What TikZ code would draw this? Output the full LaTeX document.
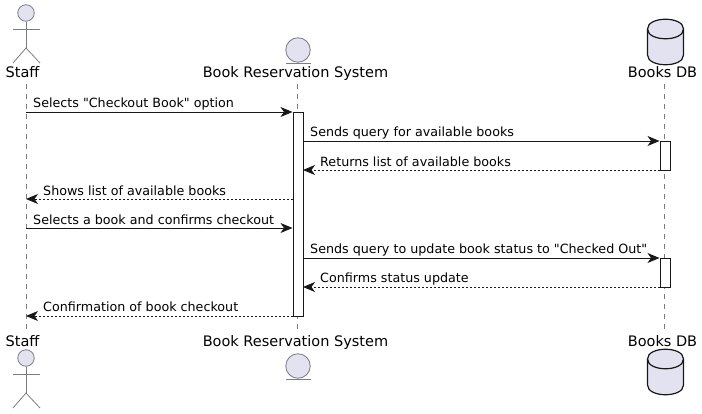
\documentclass[tikz,border=0pt]{standalone}
\usepackage{fontspec}
\usepackage{xcolor}
\setmainfont{DejaVu Sans}[Ligatures=TeXOff]
\usetikzlibrary{arrows.meta}
\definecolor{umlfill}{HTML}{E2E2F0}
\definecolor{umlline}{HTML}{181818}
\definecolor{umlgray}{HTML}{7B7B88}
\tikzset{
  msgline/.style={draw=umlline,line width=0.9pt,-{Stealth[length=12pt,width=10pt,inset=3.5pt]}},
  msgreturn/.style={msgline,dash pattern=on 2pt off 2pt},
  msgtext/.style={anchor=base west,inner sep=0pt,font=\fontsize{12.7}{15}\selectfont,text=black},
  nametext/.style={anchor=base,inner sep=0pt,font=\fontsize{14.5}{16}\selectfont,text=black},
  lifeline/.style={draw=umlgray,line width=0.8pt,dash pattern=on 5pt off 5pt},
  actbox/.style={draw=umlline,line width=0.9pt,fill=white,inner sep=0pt,minimum width=10pt},
  figline/.style={draw=umlgray,line width=0.8pt},
  dbline/.style={draw=umlline,line width=1.2pt}
}
\begin{document}
\begin{tikzpicture}[x=1pt,y=-1pt]
        \useasboundingbox (0,0) rectangle (702,414);
        % names at the top and the bottom
        \node[nametext](staffTop) at (22.5,78) {Staff};
        \node[nametext](sysTop) at (295.5,78) {Book Reservation System};
        \node[nametext](dbTop) at (662.5,78) {Books DB};
        \node[nametext](staffBot) at (22.5,346) {Staff};
        \node[nametext](sysBot) at (295.5,346) {Book Reservation System};
        \node[nametext](dbBot) at (662.5,346) {Books DB};
        % lifelines
        \coordinate(staffA) at (26,84);
        \coordinate(staffB) at (26,333);
        \coordinate(sysA) at (297.5,84);
        \coordinate(sysB) at (297.5,333);
        \coordinate(dbA) at (664.5,84);
        \coordinate(dbB) at (664.5,333);
        \draw[lifeline](staffA)--(staffB);
        \draw[lifeline](sysA)--(sysB);
        \draw[lifeline](dbA)--(dbB);
        % activation bars
        \node[actbox,minimum height=204pt](actSys) at (298,214) {};
        \node[actbox,minimum height=29pt](actDbA) at (665,155.5) {};
        \node[actbox,minimum height=29pt](actDbB) at (665,272.5) {};
        % message ends
        \coordinate(s1) at (26,112);
        \coordinate(s2) at (26,199);
        \coordinate(s3) at (26,228);
        \coordinate(s4) at (26,316);
        \coordinate(a1) at (292.5,112);
        \coordinate(a2) at (293,199);
        \coordinate(a3) at (292.5,228);
        \coordinate(a4) at (293,316);
        \coordinate(b1) at (303,141);
        \coordinate(b2) at (303,170);
        \coordinate(b3) at (303,258);
        \coordinate(b4) at (303,287);
        \coordinate(c1) at (659.5,141);
        \coordinate(c2) at (660,170);
        \coordinate(c3) at (659.5,258);
        \coordinate(c4) at (660,287);
        % messages
        \draw[msgline](s1)--(a1);
        \draw[msgline](b1)--(c1);
        \draw[msgreturn](c2)--(b2);
        \draw[msgreturn](a2)--(s2);
        \draw[msgline](s3)--(a3);
        \draw[msgline](b3)--(c3);
        \draw[msgreturn](c4)--(b4);
        \draw[msgreturn](a4)--(s4);
        \node[msgtext](t1) at (33,107.5) {Selects "Checkout Book" option};
        \node[msgtext](t2) at (310,136.5) {Sends query for available books};
        \node[msgtext](t3) at (320,166.5) {Returns list of available books};
        \node[msgtext](t4) at (43,195.5) {Shows list of available books};
        \node[msgtext](t5) at (33,224.5) {Selects a book and confirms checkout};
        \node[msgtext](t6) at (310,253.5) {Sends query to update book status to "Checked Out"};
        \node[msgtext](t7) at (320,282.5) {Confirms status update};
        \node[msgtext](t8) at (43,311.5) {Confirmation of book checkout};
        % staff, top
        \node[circle,figline,fill=umlfill,minimum size=16.5pt,inner sep=0pt](headTop) at (26,13) {};
        \coordinate(neckA) at (26,48);
        \draw[figline](headTop.south)--(neckA);
        \draw[figline](13,29)--(40,29);
        \draw[figline](13,63)--(neckA)--(40,63);
        % staff, bottom
        \node[circle,figline,fill=umlfill,minimum size=16.5pt,inner sep=0pt](headBot) at (26,358) {};
        \coordinate(neckB) at (26,393);
        \draw[figline](headBot.south)--(neckB);
        \draw[figline](13,374)--(40,374);
        \draw[figline](13,408)--(neckB)--(40,408);
        % entity
        \node[circle,figline,fill=umlfill,minimum size=24.5pt,inner sep=0pt](entTop) at (298,50) {};
        \draw[figline](286,63.5)--(311,63.5);
        \node[circle,figline,fill=umlfill,minimum size=24.5pt,inner sep=0pt](entBot) at (298,366) {};
        \draw[figline](286,379.5)--(311,379.5);
        % database
        \draw[dbline,fill=umlfill](647.5,29) .. controls (647.5,16) and (683.5,16) .. (683.5,29)
          -- (683.5,55) .. controls (683.5,68) and (647.5,68) .. (647.5,55) -- cycle;
        \draw[dbline](647.5,29) .. controls (647.5,42) and (683.5,42) .. (683.5,29);
        \draw[dbline,fill=umlfill](647.5,359) .. controls (647.5,346) and (683.5,346) .. (683.5,359)
          -- (683.5,385) .. controls (683.5,398) and (647.5,398) .. (647.5,385) -- cycle;
        \draw[dbline](647.5,359) .. controls (647.5,372) and (683.5,372) .. (683.5,359);
\end{tikzpicture}
\end{document}
